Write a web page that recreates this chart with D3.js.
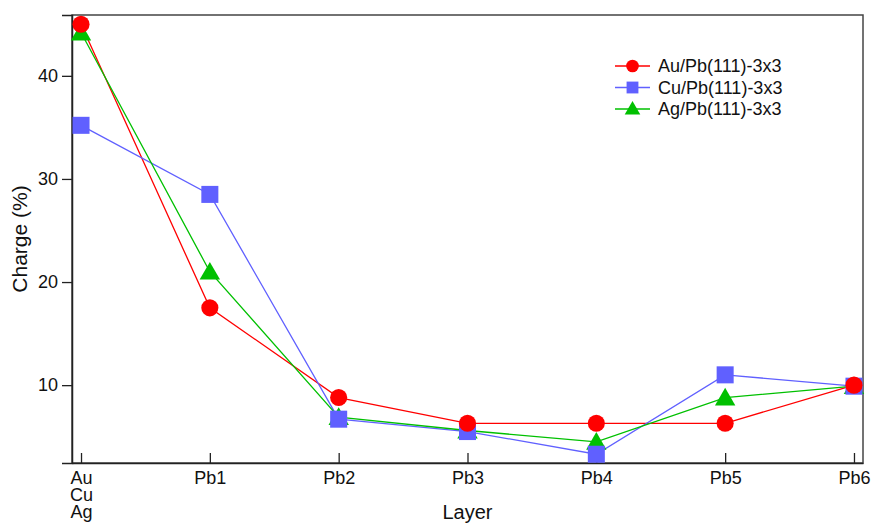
<!DOCTYPE html>
<html>
<head>
<meta charset="utf-8">
<script src="https://cdn.jsdelivr.net/npm/d3@7"></script>
<style>
  body { margin: 0; background: #fff; }
  svg text { font-family: "Liberation Sans", Arial, sans-serif; fill: #111; }
</style>
</head>
<body>
<div id="chart"></div>
<script>
// layers along x
const layers = ["Au", "Pb1", "Pb2", "Pb3", "Pb4", "Pb5", "Pb6"]
const yTicks = [10, 20, 30, 40]

// charge (%) per layer
const auValues = [45.0, 17.5, 8.8, 6.3, 6.3, 6.3, 10.0]
const cuValues = [35.2, 28.5, 6.7, 5.5, 3.3, 11.0, 9.9]
const agValues = [44.2, 21.0, 6.9, 5.6, 4.5, 8.8, 9.9]

const seriesNames = ["Au/Pb(111)-3x3", "Cu/Pb(111)-3x3", "Ag/Pb(111)-3x3"]
const seriesColors = ["#ff0000", "#6060ff", "#00c000"]
const seriesShapes = ["circle", "square", "triangle"]

const width = 881, height = 523
const margin = {top: 15, right: 18, bottom: 60, left: 72}

const series = [auValues, cuValues, agValues].map((vals, i) => ({
    name: seriesNames[i],
    color: seriesColors[i],
    shape: seriesShapes[i],
    values: vals
}))

const svg = d3.select("#chart")
    .append("svg")
    .attr("width", width)
    .attr("height", height)

const x = d3.scaleLinear()
    .domain([-0.07, layers.length - 1 + 0.07])
    .range([margin.left, width - margin.right])

const y = d3.scaleLinear()
    .domain([2.45, 45.9])
    .range([height - margin.bottom, margin.top])

// frame
svg.append("rect")
    .attr("x", margin.left)
    .attr("y", margin.top)
    .attr("width", width - margin.left - margin.right)
    .attr("height", height - margin.top - margin.bottom)
    .attr("fill", "none")
    .attr("stroke", "#444")
    .attr("stroke-width", 1.5)

// y axis, ticks outside
const yAxis = svg.append("g")
    .attr("transform", `translate(${margin.left},0)`)
    .call(d3.axisLeft(y).tickValues(yTicks).tickSize(10).tickPadding(4))
yAxis.select(".domain").attr("stroke", "#222").attr("stroke-width", 1.5)
yAxis.selectAll(".tick line").attr("stroke", "#222").attr("stroke-width", 1.3)
yAxis.selectAll(".tick text").style("font-size", "18px").attr("fill", "#111")

// x axis, ticks pointing inward
const xAxis = svg.append("g")
    .attr("transform", `translate(0,${height - margin.bottom})`)
    .call(d3.axisBottom(x).tickValues(d3.range(layers.length)).tickSize(0).tickFormat(""))
xAxis.select(".domain").attr("stroke", "#222").attr("stroke-width", 1.5)
xAxis.selectAll(".tick line")
    .attr("y2", -10)
    .attr("stroke", "#222")
    .attr("stroke-width", 1.3)

const xLabels = xAxis.selectAll(".tick")
    .append("text")
    .attr("text-anchor", "middle")
    .style("font-size", "18px")
    .attr("fill", "#111")
xLabels.each(function(d) {
    const t = d3.select(this)
    const lines = d === 0 ? ["Au", "Cu", "Ag"] : [layers[d]]
    lines.forEach((s, k) => {
        t.append("tspan").attr("x", 0).attr("y", 21 + k * 17).text(s)
    })
})

// axis titles
svg.append("text")
    .attr("x", x(3))
    .attr("y", 519)
    .attr("text-anchor", "middle")
    .style("font-size", "20px")
    .text("Layer")

svg.append("text")
    .attr("transform", `translate(27,${(margin.top + height - margin.bottom) / 2}) rotate(-90)`)
    .attr("text-anchor", "middle")
    .style("font-size", "21px")
    .text("Charge (%)")

// marker path for a given shape
function markerPath(shape, size) {
    if (shape === "circle") return d3.symbol(d3.symbolCircle, size)()
    if (shape === "square") return d3.symbol(d3.symbolSquare, size)()
    return d3.symbol(d3.symbolTriangle, size)()
}
const markerSize = {circle: 230, square: 290, triangle: 180}

const line = d3.line()
    .x((d, i) => x(i))
    .y(d => y(d))

const g = svg.append("g")

// lines first, then markers on top
g.selectAll("path.line")
    .data(series)
    .enter().append("path")
    .attr("class", "line")
    .attr("d", d => line(d.values))
    .attr("fill", "none")
    .attr("stroke", d => d.color)
    .attr("stroke-width", 1.3)

// draw Ag, Cu, then Au markers so red sits on top
const drawOrder = [series[2], series[1], series[0]]
drawOrder.forEach(s => {
    g.selectAll(null)
        .data(s.values)
        .enter().append("path")
        .attr("transform", (d, i) => `translate(${x(i)},${y(d) + (s.shape === "triangle" ? 2 : 0)})`)
        .attr("d", markerPath(s.shape, markerSize[s.shape]))
        .attr("fill", s.color)
})

// legend
const legend = svg.append("g")
    .attr("transform", "translate(615,66)")

const items = legend.selectAll("g")
    .data(series)
    .enter().append("g")
    .attr("transform", (d, i) => `translate(0,${i * 21.5})`)

items.append("line")
    .attr("x1", 0).attr("x2", 35)
    .attr("stroke", d => d.color)
    .attr("stroke-width", 1.3)

items.append("path")
    .attr("transform", d => `translate(17.5,${d.shape === "triangle" ? 1 : 0})`)
    .attr("d", d => markerPath(d.shape, d.shape === "circle" ? 125 : d.shape === "square" ? 140 : 105))
    .attr("fill", d => d.color)

items.append("text")
    .attr("x", 43)
    .attr("dy", "0.35em")
    .style("font-size", "18px")
    .text(d => d.name)
</script>
</body>
</html>
